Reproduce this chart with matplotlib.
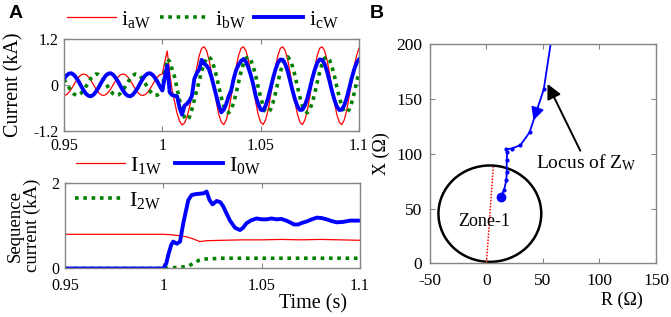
import numpy as np
import matplotlib
matplotlib.use("Agg")
import matplotlib.pyplot as plt
from matplotlib.patches import Ellipse

plt.rcParams['font.family'] = ['Liberation Serif', 'DejaVu Serif']
plt.rcParams['mathtext.fontset'] = 'custom'
plt.rcParams['mathtext.rm'] = 'Liberation Serif'
plt.rcParams['mathtext.it'] = 'Liberation Serif:italic'
plt.rcParams['axes.unicode_minus'] = False

# ---------------- data: panel A (top) ----------------
t_top = np.linspace(0.95, 1.10, 121)

i_aW = [-.28, -.26, -.20, -.11, 0, .11, .20, .26, .28, .26, .20, .11, 0, -.11, -.20, -.26,
        -.28, -.26, -.20, -.11, 0, .11, .20, .26, .28, .26, .20, .11, 0, -.11, -.20, -.26,
        -.28, -.26, -.20, -.11, 0, .11, .20, .26, .28,
        .60, .88, .30, -.15, -.45, -.75, -.95, -1.05, -1.00, -.85, -.60,
        -.31, .08, .45, .76, .95,
        .99, .89, .65, .31, -.08, -.46, -.78, -.98, -1.04, -.92, -.67, -.31, .08, .45, .76, .95,
        .99, .89, .65, .31, -.08, -.46, -.78, -.98, -1.04, -.92, -.67, -.31, .08, .45, .76, .95,
        .99, .89, .65, .31, -.08, -.46, -.78, -.98, -1.04, -.92, -.67, -.31, .08, .45, .76, .95,
        .99, .89, .65, .31, -.08, -.46, -.78, -.98, -1.04, -.92, -.67, -.31, .08, .45, .76, .95]

i_bW = [.14, .04, -.07, -.17, -.24, -.28, -.27, -.22, -.14, -.04, .07, .17, .24, .28, .27, .22,
        .14, .04, -.07, -.17, -.24, -.28, -.27, -.22, -.14, -.04, .07, .17, .24, .28, .27, .22,
        .14, .04, -.07, -.17, -.24, -.28, -.27, -.22, -.14,
        .35, .68, .60, .40, .20, -.10, -.40, -.65, -.85, -.92, -.85, -.65, -.40, -.15, .10, .35,
        .55, .69, .73, .65,
        .47, .23, -.06, -.33, -.55, -.69, -.73, -.65, -.47, -.23, .06, .33, .55, .69, .73, .65,
        .47, .23, -.06, -.33, -.55, -.69, -.73, -.65, -.47, -.23, .06, .33, .55, .69, .73, .65,
        .47, .23, -.06, -.33, -.55, -.69, -.73, -.65, -.47, -.23, .06, .33, .55, .69, .73, .65,
        .47, .23, -.06, -.33, -.55, -.69, -.73, -.65, -.47, -.23, .06, .33]

i_cW = [.15, .24, .29, .30, .26, .18, .08, -.04, -.15, -.24, -.29, -.30, -.26, -.18, -.08, .04,
        .15, .24, .29, .30, .26, .18, .08, -.04, -.15, -.24, -.29, -.30, -.26, -.18, -.08, .04,
        .15, .24, .29, .30, .26, .18, .08, -.04, -.15,
        .20, .50, -.20, -.27, -.29, -.30, -.60, -.78, -.55, -.50, -.42, -.30,
        .15, .30, .40, .65, .55, .50, .40, .20, -.05, -.30, -.55, -.72, -.65, -.50, -.30, -.15,
        .15, .38, .52, .62, .67,
        .60, .45, .25, .00, -.30, -.50, -.65, -.67, -.55,
        -.35, -.10, .16, .39, .57, .66, .65, .54, .35, .10, -.16, -.39, -.57, -.66, -.65, -.54,
        -.35, -.10, .16, .39, .57, .66, .65, .54, .35, .10, -.16, -.39, -.57, -.66, -.65, -.54,
        -.35, -.10, .16, .39, .57, .66]

# ---------------- data: panel A (bottom) ----------------
t_I0 = [0.95, 1.0, 1.0015, 1.0025, 1.004, 1.005, 1.0068, 1.0085, 1.0101, 1.0115, 1.0127, 1.0144,
        1.0165, 1.0186, 1.0205, 1.022, 1.0235, 1.025, 1.0271, 1.029, 1.0305, 1.032, 1.0339, 1.0365,
        1.039, 1.0405, 1.0423, 1.0448, 1.0474, 1.05, 1.0525, 1.055, 1.0576, 1.06, 1.0625, 1.0644,
        1.0665, 1.0686, 1.0707, 1.0729, 1.0755, 1.078, 1.0805, 1.083, 1.0855, 1.0881, 1.0915,
        1.0949, 1.1]
I_0W = [0, 0, .12, .32, .55, .63, .58, .63, 1.05, 1.35, 1.6, 1.72,
        1.74, 1.75, 1.76, 1.8, 1.6, 1.5, 1.58, 1.55, 1.45, 1.3, 1.12, .95,
        .9, .95, 1.06, 1.13, 1.17, 1.15, 1.15, 1.17, 1.15, 1.16, 1.12, 1.08,
        1.03, 1.03, 1.07, 1.1, 1.15, 1.19, 1.18, 1.15, 1.11, 1.08, 1.09,
        1.12, 1.12]

t_I1 = [0.95, 1.0, 1.004, 1.009, 1.012, 1.0153, 1.0185, 1.022, 1.03, 1.04, 1.05, 1.06, 1.07,
        1.08, 1.09, 1.1]
I_1W = [.80, .80, .79, .76, .74, .69, .63, .65, .66, .67, .67, .68, .67, .68, .67, .66]

t_I2 = [0.95, 1.0, 1.003, 1.008, 1.0125, 1.0152, 1.018, 1.0203, 1.025, 1.03, 1.04, 1.05, 1.06,
        1.07, 1.08, 1.09, 1.1]
I_2W = [0, 0, .01, .03, .05, .12, .19, .22, .23, .24, .24, .24, .24, .24, .24, .24, .24]

# ---------------- data: panel B ----------------
R_locus = [57.6, 50.7, 38.1, 30.0, 22.3, 17.3, 18.4, 17.9, 17.9, 17.6, 15.5, 12.6]
X_locus = [206, 159, 119.7, 108, 105, 104.3, 102, 94.5, 83.8, 76, 67, 61]
zone_center = (3, 45.5)
zone_size = (91, 88)
reach_R = [0, 6]
reach_X = [1, 88]
R_ticks = [-50, 0, 50, 100, 150]
X_ticks = [0, 50, 100, 150, 200]

RED = '#ff0000'
GREEN = '#008000'
BLUE = '#0000ff'
FRAME = '#858585'
FS = 11.5       # tick labels
FL = 14.5       # axis labels
FLEG = 16       # legend

fig = plt.figure(figsize=(6.71, 3.17), dpi=100)

def style(ax, xpad=5, ypad=4, size=FS):
    for s in ax.spines.values():
        s.set_color(FRAME)
        s.set_linewidth(1.0)
    ax.tick_params(direction='in', length=3.5, width=0.8, color=FRAME, labelsize=size,
                   top=True, right=True, labelcolor='black')
    ax.tick_params(axis='x', pad=xpad)
    ax.tick_params(axis='y', pad=ypad)

leg_kw = dict(frameon=False, fontsize=FLEG, handlelength=2.2, handletextpad=0.25,
              borderpad=0, borderaxespad=0)

# top-left
ax1 = fig.add_axes([0.0954, 0.5877, 0.4396, 0.290])
ax1.plot(t_top, i_aW, color=RED, lw=0.9, label=r'$\mathrm{i}_{\mathrm{aW}}$')
ax1.plot(t_top, i_bW, color=GREEN, lw=2.6, ls=(0, (1, 1.3)), label=r'$\mathrm{i}_{\mathrm{bW}}$')
ax1.plot(t_top, i_cW, color=BLUE, lw=2.8, label=r'$\mathrm{i}_{\mathrm{cW}}$')
ax1.set_xlim(0.95, 1.1)
ax1.set_ylim(-1.2, 1.2)
ax1.set_xticks([0.95, 1.0, 1.05, 1.1])
ax1.set_xticklabels(['0.95', '1', '1.05', '1.1'])
ax1.set_yticks([-1.2, 0, 1.2])
ax1.set_yticklabels(['-1.2', '0', '1.2'])
style(ax1)
ax1.set_ylabel('Current (kA)', fontsize=FL)
ax1.yaxis.set_label_coords(-0.137, 0.5)
ax1.legend(loc='center left', bbox_to_anchor=(0.01, 1.215), ncol=3, columnspacing=0.4, **leg_kw)

# bottom-left
ax2 = fig.add_axes([0.0969, 0.153, 0.4396, 0.2697])
l1, = ax2.plot(t_I1, I_1W, color=RED, lw=0.9, label=r'$\mathrm{I}_{\mathrm{1W}}$')
l2, = ax2.plot(t_I2, I_2W, color=GREEN, lw=2.6, ls=(0, (1, 1.3)), label=r'$\mathrm{I}_{\mathrm{2W}}$')
l0, = ax2.plot(t_I0, I_0W, color=BLUE, lw=2.8, label=r'$\mathrm{I}_{\mathrm{0W}}$')
ax2.set_xlim(0.95, 1.1)
ax2.set_ylim(0, 2)
ax2.set_xticks([0.95, 1.0, 1.05, 1.1])
ax2.set_xticklabels(['0.95', '1', '1.05', '1.1'])
ax2.set_yticks([0, 2])
ax2.set_yticklabels(['0', '2'])
style(ax2, xpad=7)
ax2.set_ylabel('Sequence\ncurrent (kA)', fontsize=13.5, linespacing=1.0)
ax2.yaxis.set_label_coords(-0.08, 0.5)
ax2.set_xlabel('Time (s)', fontsize=FL)
ax2.xaxis.set_label_coords(0.84, -0.30)
leg_a = ax2.legend(handles=[l1, l0], loc='center left', bbox_to_anchor=(0.037, 1.21), ncol=2,
                   columnspacing=0.55, **leg_kw)
ax2.add_artist(leg_a)
ax2.legend(handles=[l2], loc='center left', bbox_to_anchor=(0.034, 0.80), **leg_kw)

# right panel
ax3 = fig.add_axes([0.6408, 0.1688, 0.3368, 0.6909])
ax3.add_patch(Ellipse(zone_center, zone_size[0], zone_size[1], fill=False, ec='black', lw=1.8))
ax3.plot(reach_R, reach_X, color=RED, lw=1.1, ls=(0, (1, 1)))
ax3.plot(R_locus, X_locus, color=BLUE, lw=1.3, marker='o', ms=2.0)
ax3.plot(R_locus[-1], X_locus[-1], 'o', color=BLUE, ms=6)
# direction arrow along locus segment 1-2
p1 = np.array([R_locus[1], X_locus[1]])
p2 = np.array([R_locus[2], X_locus[2]])
tip = p1 + 0.72 * (p2 - p1)
tail = p1 + 0.40 * (p2 - p1)
ax3.annotate('', xy=tip, xytext=tail,
             arrowprops=dict(arrowstyle='-|>', color=BLUE, lw=1.3, mutation_scale=19,
                             shrinkA=0, shrinkB=0))
ax3.annotate('', xy=(54, 164), xytext=(83, 103),
             arrowprops=dict(arrowstyle='-|>', color='black', lw=1.4, mutation_scale=22,
                             shrinkA=0, shrinkB=0))
ax3.text(44, 92, r'Locus of Z$_{\mathrm{W}}$', fontsize=14, ha='left', va='center')
ax3.text(-2, 38, 'Zone-1', fontsize=13, ha='center', va='center')
ax3.set_xlim(-50, 150)
ax3.set_ylim(0, 200)
ax3.set_xticks(R_ticks)
ax3.set_xticklabels([str(v) for v in R_ticks])
ax3.set_yticks(X_ticks)
ax3.set_yticklabels([str(v) for v in X_ticks])
style(ax3, xpad=7, ypad=5.5, size=12.5)
ax3.set_xlabel('R (Ω)', fontsize=13)
ax3.xaxis.set_label_coords(0.85, -0.13)
ax3.set_ylabel('X (Ω)', fontsize=13)
ax3.yaxis.set_label_coords(-0.175, 0.5)

fig.text(0.012, 0.985, 'A', fontsize=14, fontweight='bold', family='Liberation Sans',
         va='top', ha='left')
fig.text(0.551, 0.985, 'B', fontsize=14, fontweight='bold', family='Liberation Sans',
         va='top', ha='left')

fig.savefig('out.png', dpi=100)
